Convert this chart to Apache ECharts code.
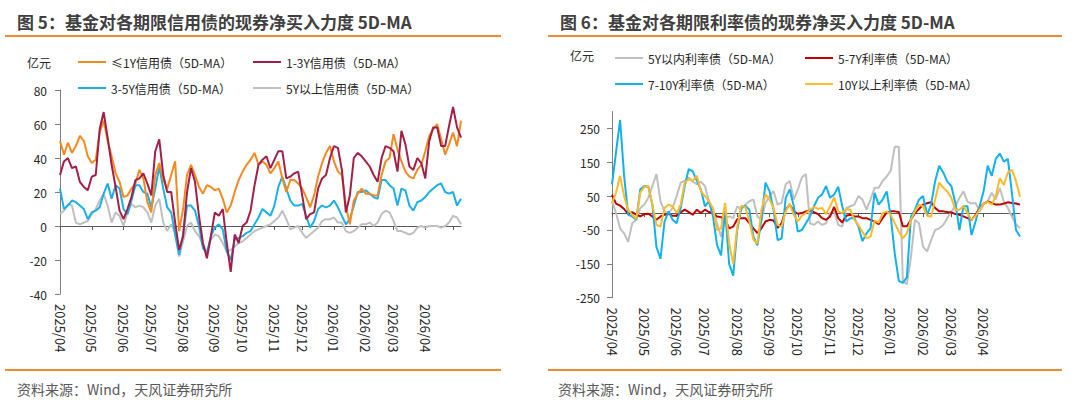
<!DOCTYPE html>
<html>
<head>
<meta charset="utf-8">
<script src="https://cdn.jsdelivr.net/npm/echarts@6/dist/echarts.min.js"></script>
<style>
html, body { margin: 0; padding: 0; background: #fff; }
#chart { width: 1080px; height: 403px; }
</style>
</head>
<body>
<div id="chart"></div>
<script>
const FONT = '"Noto Sans CJK SC", "Noto Sans", sans-serif'

// sample dates, every 4 calendar days from 2025/04/01
const dates = []
for (let i = 0; i < 102; i++) {
    const d = new Date(2025, 3, 1 + i * 4)
    dates.push(d.getFullYear() + '/' + String(d.getMonth() + 1).padStart(2, '0') + '/' + String(d.getDate()).padStart(2, '0'))
}

// 图5 信用债 (亿元)
const credit1Y = [50,42,49,43,47,53,50,41,37,39, 55,62,50,41,31,26,17,18,22,25, 33,28,14,8,30,37,27,22,30,38,
    -3,10,30,36,30,23,19,24,23,21, 22,16,8,12,20,27,32,36,39,43, 36,38,36,31,34,38,28,20,27,27,
    25,22,17,11,18,29,37,43,47,38, 32,30,12,1,15,19,22,19,19,18, 18,30,38,40,54,45,38,32,29,28,
    33,36,44,53,57,60,51,42,48,55, 47,62]
const credit1to3Y = [30,38,40,34,35,26,23,21,29,30, 57,67,52,36,23,9,4,10,17,27, 28,31,25,18,44,51,30,20,20,2,
    -14,-6,20,34,26,6,-10,-19,-6,8, 6,10,-10,-27,-5,-10,0,2,9,24, 36,39,41,34,39,44,44,28,29,31,
    32,18,4,7,8,22,28,30,40,47, 46,33,8,18,40,43,41,38,35,30, 26,40,47,46,44,32,56,48,35,33,
    40,37,28,50,58,58,47,47,59,70, 58,52]
const credit3to5Y = [22,10,12,15,14,12,10,4,8,9, 11,19,25,16,24,22,10,7,15,24, 24,20,19,11,22,35,22,11,8,-5,
    -17,-5,12,12,9,0,-13,-16,-6,-1, 1,-2,-15,-20,-8,-7,-6,-4,-3,1, 5,10,8,6,12,23,29,22,15,12,
    12,13,6,-1,3,10,12,11,12,15, 11,6,1,4,12,20,20,21,19,17, 16,27,27,24,22,12,22,21,12,9,
    14,15,17,20,22,24,25,20,19,20, 12,16]
const credit5Yplus = [7,9,13,12,2,1,2,3,7,10, 15,19,12,2,8,6,0,8,13,11, 12,11,8,2,12,16,2,-3,1,-4,
    -18,-9,0,2,-3,-6,-11,-15,-8,-5, -6,-10,-15,-14,-12,-10,-9,-7,-5,-3, -2,-1,0,1,3,5,9,4,-2,-1,
    0,-4,-7,-5,-3,-1,3,4,4,5, 2,2,-3,-4,-3,-1,1,1,2,0, 2,7,9,8,3,-3,-3,-4,-5,-4,
    -1,0,-1,0,0,0,-1,0,2,6, 5,1]

// 图6 利率债 (亿元)
const rate5Y = [35,0,-45,-60,-85,-30,-20,15,25,45, 80,115,35,5,0,15,50,90,95,105, 93,85,93,80,35,10,-30,-70,-15,-10,
    -15,20,10,25,35,40,-10,-20,30,50, 65,25,30,85,95,40,70,105,115,-30, -35,-25,-35,-30,0,5,-35,-40,15,20,
    25,50,40,10,40,75,75,95,108,125, 196,196,-200,-210,-130,-20,-30,-100,-113,-80, -50,-45,-35,-15,5,20,45,64,34,28,
    30,5,25,35,60,40,74,34,15,-10, -34,-44]
const rate5to7Y = [54,28,22,12,-3,3,-5,-10,-3,-2, -10,-20,-10,-5,-2,-8,-8,2,10,3, -5,10,0,10,3,0,-10,-12,-20,-45,
    -40,-18,-15,-15,-30,-45,-59,-45,-25,-20, -22,-44,-30,10,25,5,-2,0,5,8, 3,-3,-15,-20,-10,18,-15,-28,-8,-5,
    -10,-10,-15,-15,-20,-25,-33,-15,2,5, 5,3,-39,-39,-20,0,12,25,29,32, 15,5,5,3,2,-3,-5,-10,-15,-20,
    -5,15,28,34,30,25,25,28,32,30, 28,25]
const rate7to10Y = [85,180,275,110,-5,-10,-20,70,80,78, 25,-100,-135,-25,5,-20,-30,15,80,130, 123,95,70,20,35,-10,-95,-125,10,-150,
    -185,-50,15,22,10,-70,-95,-20,90,65, 10,-80,-75,45,70,20,-55,-50,-30,-10, 20,45,55,80,45,55,78,20,-25,-15,
    -15,-40,-83,-60,-45,60,25,40,64,-10, -120,-200,-206,-190,-10,10,40,50,-5,25, 95,140,120,93,80,30,-50,20,20,-65,
    -25,20,65,140,110,160,176,152,160,60, -50,-69]
const rate10Yplus = [29,60,110,50,10,-5,-18,60,78,80, 25,-35,-40,15,25,20,0,25,90,100, 95,110,65,50,35,15,-50,-45,30,-90,
    -150,-40,22,18,-25,-78,-90,10,55,40, 15,-35,-40,5,28,-5,-25,-8,0,10, 18,12,15,-3,20,47,5,0,12,10,
    -20,-35,-55,-74,-70,-22,-28,0,5,-5, -30,-55,-74,-60,-20,5,25,20,-8,-10, 40,90,75,64,45,10,10,20,0,-20,
    -8,10,28,33,25,50,103,83,120,128, 95,48]

const isMonthStart = (idx) => idx === 0 || dates[idx].slice(0, 7) !== dates[idx - 1].slice(0, 7)
// the last, unfinished month gets no label
const showLabel = (idx) => isMonthStart(idx) && idx < dates.length - 8

const xAxesFor = (g) => [
    {
        type: 'category', gridIndex: g, data: dates, boundaryGap: false, position: 'bottom',
        axisLine: {onZero: true, lineStyle: {color: '#595959', width: 1}},
        axisTick: {show: true, length: 4, interval: (i) => isMonthStart(i), lineStyle: {color: '#595959'}},
        axisLabel: {show: false},
        splitLine: {show: false}
    },
    {
        type: 'category', gridIndex: g, data: dates, boundaryGap: false, position: 'bottom',
        axisLine: {show: false, onZero: false},
        axisTick: {show: false},
        axisLabel: {
            interval: (i) => showLabel(i), rotate: -90, margin: 10,
            fontSize: 13, color: '#262626', fontFamily: FONT,
            formatter: (v) => v.slice(0, 7)
        },
        splitLine: {show: false}
    }
]

const lineSeries = (name, data, color, xi, yi) => ({
    name: name, type: 'line', data: data,
    xAxisIndex: xi, yAxisIndex: yi,
    symbol: 'none', smooth: false,
    lineStyle: {width: 2, color: color},
    itemStyle: {color: color}
})

const legendAt = (name, left, top) => ({
    data: [name], left: left, top: top, padding: 0,
    icon: 'rect', itemWidth: 28, itemHeight: 2, selectedMode: false,
    textStyle: {fontSize: 12, color: '#262626', fontFamily: FONT}
})

const text = (str, x, y, font, fill) => ({
    type: 'text', x: x, y: y,
    style: {text: str, font: font, fill: fill, verticalAlign: 'middle'}
})
const rule = (x1, x2, y) => ({
    type: 'line', shape: {x1: x1, y1: y, x2: x2, y2: y},
    style: {stroke: '#F08A30', lineWidth: 2}
})

const names = {
    c1: '≤1Y信用债（5D-MA）', c2: '1-3Y信用债（5D-MA）', c3: '3-5Y信用债（5D-MA）', c4: '5Y以上信用债（5D-MA）',
    r1: '5Y以内利率债（5D-MA）', r2: '5-7Y利率债（5D-MA）', r3: '7-10Y利率债（5D-MA）', r4: '10Y以上利率债（5D-MA）'
}

const chart = echarts.init(document.getElementById('chart'), null, {renderer: 'svg'})

const opt = {
    animation: false,
    backgroundColor: '#fff',
    textStyle: {fontFamily: FONT},
    grid: [
        {left: 60, top: 90, width: 401, height: 204, outerBoundsMode: 'none'},
        {left: 612, top: 111.5, width: 408, height: 186.2, outerBoundsMode: 'none'}
    ],
    xAxis: [...xAxesFor(0), ...xAxesFor(1)],
    yAxis: [
        {
            type: 'value', gridIndex: 0, min: -40, max: 80, interval: 20,
            axisLine: {show: true, lineStyle: {color: '#7f7f7f'}},
            axisTick: {show: true, length: 5, lineStyle: {color: '#7f7f7f'}},
            splitLine: {show: false},
            axisLabel: {fontSize: 12, color: '#262626', margin: 13, fontFamily: FONT}
        },
        {
            type: 'value', gridIndex: 1, min: -250, max: 300, interval: 100,
            axisLine: {show: true, lineStyle: {color: '#7f7f7f'}},
            axisTick: {show: true, length: 5, lineStyle: {color: '#7f7f7f'}},
            splitLine: {show: false},
            axisLabel: {fontSize: 12, color: '#262626', margin: 12, fontFamily: FONT, showMaxLabel: false}
        }
    ],
    legend: [
        legendAt(names.c1, 78, 56), legendAt(names.c2, 253, 56),
        legendAt(names.c3, 78, 82), legendAt(names.c4, 253, 82),
        legendAt(names.r1, 615, 52), legendAt(names.r2, 805, 52),
        legendAt(names.r3, 615, 78), legendAt(names.r4, 805, 78)
    ],
    series: [
        lineSeries(names.c4, credit5Yplus, '#BFBFBF', 0, 0),
        lineSeries(names.c3, credit3to5Y, '#1AAFE8', 0, 0),
        lineSeries(names.c1, credit1Y, '#F5891F', 0, 0),
        lineSeries(names.c2, credit1to3Y, '#A31F46', 0, 0),
        lineSeries(names.r1, rate5Y, '#BFBFBF', 2, 1),
        lineSeries(names.r2, rate5to7Y, '#C00000', 2, 1),
        lineSeries(names.r3, rate7to10Y, '#12B0EC', 2, 1),
        lineSeries(names.r4, rate10Yplus, '#FDBA2C', 2, 1)
    ],
    graphic: [
        text('图 5：基金对各期限信用债的现券净买入力度 5D-MA', 17, 21, 'bold 17px ' + FONT, '#404040'),
        text('图 6：基金对各期限利率债的现券净买入力度 5D-MA', 560, 21, 'bold 17px ' + FONT, '#404040'),
        rule(5, 501, 36), rule(548, 1062, 36),
        rule(5, 501, 370), rule(548, 1062, 370),
        text('亿元', 27, 62, '12px ' + FONT, '#262626'),
        text('亿元', 570, 55, '12px ' + FONT, '#262626'),
        text('资料来源：Wind，天风证券研究所', 17, 389, '14px ' + FONT, '#595959'),
        text('资料来源：Wind，天风证券研究所', 558, 389, '14px ' + FONT, '#595959')
    ]
}

chart.setOption(opt)
</script>
</body>
</html>
